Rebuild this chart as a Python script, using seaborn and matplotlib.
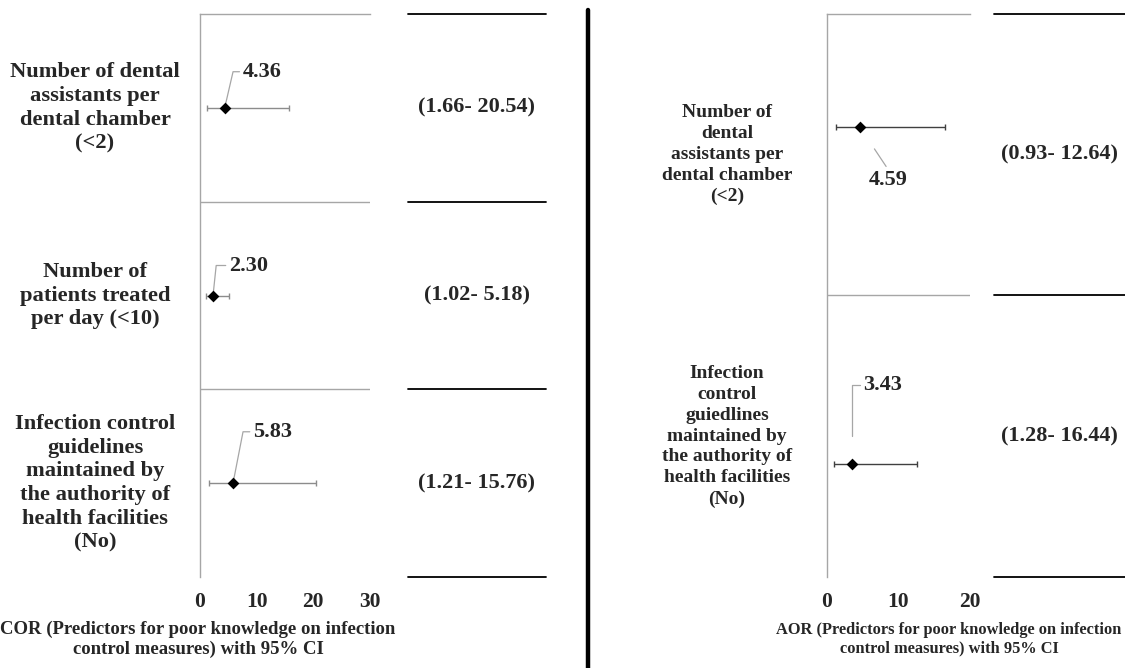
import matplotlib
matplotlib.use("Agg")
import matplotlib.pyplot as plt
import seaborn as sns
from matplotlib.lines import Line2D
from matplotlib.transforms import blended_transform_factory

# crude odds ratios (left panel)
cor_labels = ["Number of dental\nassistants per\ndental chamber\n(<2)",
              "Number of\npatients treated\nper day (<10)",
              "Infection control\nguidelines\nmaintained by\nthe authority of\nhealth facilities\n(No)"]
cor_rows = [1, 2, 3]
cor_vals = [4.36, 2.30, 5.83]
cor_low = [1.21, 1.02, 1.66]      # bars as drawn in the figure
cor_high = [15.76, 5.18, 20.54]
cor_ci_text = ["(1.66- 20.54)", "(1.02- 5.18)", "(1.21- 15.76)"]
cor_ticks = [0, 10, 20, 30]

# adjusted odds ratios (right panel)
aor_labels = ["Number of\ndental\nassistants per\ndental chamber\n(<2)",
              "Infection\ncontrol\nguiedlines\nmaintained by\nthe authority of\nhealth facilities\n(No)"]
aor_rows = [1, 2]
aor_vals = [4.59, 3.43]
aor_low = [1.28, 0.93]
aor_high = [16.44, 12.64]
aor_ci_text = ["(0.93- 12.64)", "(1.28- 16.44)"]
aor_ticks = [0, 10, 20]

sns.set_style("white")
plt.rcParams['font.family'] = ['Liberation Serif', 'DejaVu Serif']
plt.rcParams['font.weight'] = 'bold'

W, H = 1125, 668
fig = plt.figure(figsize=(W / 100, H / 100), dpi=100)


def panel(ax_box, ci_box, x_max, ylim, rows, vals, low, high, labels, ci_text,
          ticks, label_x, label_fs, label_ls, bar_color, annos, xlabel, xlabel_x, xlabel_fs):
    ax = fig.add_axes([ax_box[0] / W, 91 / H, ax_box[1] / W, 563 / H])
    ax.errorbar(vals, rows, xerr=[[v - l for v, l in zip(vals, low)],
                                  [h - v for v, h in zip(vals, high)]],
                fmt='none', ecolor=bar_color, elinewidth=1.0, capsize=2.5, capthick=1.0)
    sns.scatterplot(x=vals, y=rows, marker='D', color='black', s=36,
                    edgecolor='black', linewidth=0, ax=ax, zorder=5)
    ax.set_xlim(0, x_max)
    ax.set_ylim(*ylim)
    ax.set_xticks(ticks)
    ax.set_yticks([])
    ax.tick_params(axis='x', length=0, pad=11, labelsize=15.5)
    for s in ['right', 'bottom']:
        ax.spines[s].set_visible(False)
    for s in ['left', 'top']:
        ax.spines[s].set_color('#a6a6a6')
        ax.spines[s].set_linewidth(1.0)
    bounds = [ylim[1]] + [r + 0.5 for r in rows[:-1]] + [ylim[0]]
    for b in bounds[1:-1]:
        ax.axhline(b, color='#a6a6a6', lw=1.0)

    # row labels
    tr = blended_transform_factory(fig.transFigure, ax.transData)
    for i, lab in enumerate(labels):
        yc = (bounds[i] + bounds[i + 1]) / 2
        ax.text(label_x / W, yc, lab, transform=tr, ha='center', va='center',
                fontsize=label_fs, fontweight='bold', linespacing=label_ls)

    # value labels with leader lines
    for v, r, (dx, dy, style, rel, shB) in zip(vals, rows, annos):
        ax.annotate(f"{v:.2f}", xy=(v, r), xytext=(dx, dy), textcoords='offset points',
                    ha='left', va='center', fontsize=16, fontweight='bold',
                    arrowprops=dict(arrowstyle='-', color='#a6a6a6', lw=0.9,
                                    connectionstyle=style, relpos=rel,
                                    shrinkA=0, shrinkB=shB))

    # CI column
    axc = fig.add_axes([ci_box[0] / W, 91 / H, ci_box[1] / W, 563 / H])
    axc.set_ylim(*ylim)
    axc.set_xlim(0, 1)
    axc.axis('off')
    for b in bounds:
        axc.axhline(b, color='black', lw=1.3, clip_on=False)
    for i, t in enumerate(ci_text):
        yc = (bounds[i] + bounds[i + 1]) / 2
        axc.text(0.5, yc, t, ha='center', va='center', fontsize=16, fontweight='bold')

    fig.text(xlabel_x / W, (H - 639) / H, xlabel, ha='center', va='center',
             fontsize=xlabel_fs, fontweight='bold', linespacing=1.2)
    return ax


panel((200, 170), (408, 138), 30, (3.5, 0.5), cor_rows, cor_vals, cor_low, cor_high,
      cor_labels, cor_ci_text, cor_ticks, 95, 16.2, 1.25, '#8c8c8c',
      [(13, 26, "angle,angleA=0,angleB=77,rad=0", (0, 0.5), 3),
       (11.5, 21.6, "angle,angleA=0,angleB=84,rad=0", (0, 0.5), 3),
       (14.4, 37, "angle,angleA=0,angleB=79,rad=0", (0, 0.5), 3)],
      "COR (Predictors for poor knowledge on infection\ncontrol measures) with 95% CI", 198, 13.5)

panel((827, 143), (994, 131), 20, (2.335, 0.665), aor_rows, aor_vals, aor_low, aor_high,
      aor_labels, aor_ci_text, aor_ticks, 727, 14, 1.3, '#404040',
      [(6.5, -38, "arc3,rad=0", (0.5, 1.0), 19),
       (8.6, 57, "angle,angleA=0,angleB=90,rad=0", (0, 0.5), 20)],
      "AOR (Predictors for poor knowledge on infection\ncontrol measures) with 95% CI", 949, 11.8)

# thick separator between the two panels
fig.add_artist(Line2D([588 / W, 588 / W], [0, (H - 10) / H], color='black', lw=3.2,
                      transform=fig.transFigure))

fig.savefig("out.png", dpi=100, facecolor='white')
